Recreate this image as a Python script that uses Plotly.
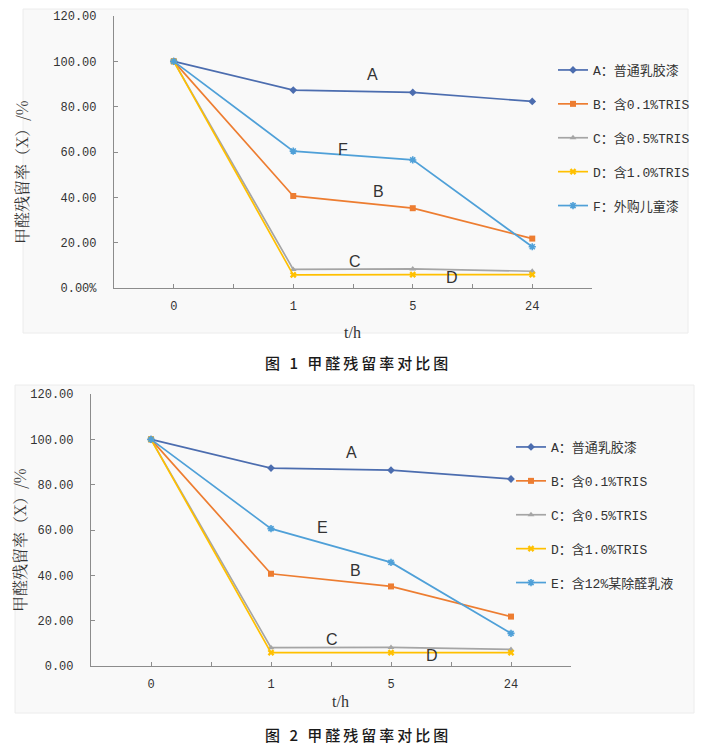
import plotly.graph_objects as go

# The page body adds an 8px margin, so the figure is sized to fit inside it
PAGE_W, PAGE_H = 703, 753
OFF = 8
W, H = PAGE_W - 2 * OFF, PAGE_H - 2 * OFF

# ---------------- data ----------------
times = ["0", "1", "5", "24"]

fig1_names = ["A：普通乳胶漆", "B：含0.1%TRIS", "C：含0.5%TRIS", "D：含1.0%TRIS", "F：外购儿童漆"]
fig1_A = [100.0, 87.3, 86.3, 82.3]
fig1_B = [100.0, 40.6, 35.2, 21.8]
fig1_C = [100.0, 8.2, 8.4, 7.4]
fig1_D = [100.0, 5.8, 5.9, 5.9]
fig1_F = [100.0, 60.4, 56.5, 18.2]

fig2_names = ["A：普通乳胶漆", "B：含0.1%TRIS", "C：含0.5%TRIS", "D：含1.0%TRIS", "E：含12%某除醛乳液"]
fig2_A = [100.0, 87.3, 86.4, 82.5]
fig2_B = [100.0, 40.7, 35.1, 21.8]
fig2_C = [100.0, 8.1, 8.2, 7.3]
fig2_D = [100.0, 5.9, 5.9, 5.9]
fig2_E = [100.0, 60.6, 45.7, 14.4]

y_ticks = [0, 20, 40, 60, 80, 100, 120]
y_ticktext1 = ["0.00%", "20.00", "40.00", "60.00", "80.00", "100.00", "120.00"]
y_ticktext2 = ["0.00", "20.00", "40.00", "60.00", "80.00", "100.00", "120.00"]

# line-label annotations (label, x position in category units, y value)
labels1 = [("A", 1.66, 94.0), ("F", 1.42, 60.9), ("B", 1.71, 42.5), ("C", 1.52, 11.5), ("D", 2.33, 4.8)]
labels2 = [("A", 1.67, 94.0), ("E", 1.43, 61.2), ("B", 1.70, 42.0), ("C", 1.51, 11.5), ("D", 2.34, 4.6)]

caption1 = "图 1 甲醛残留率对比图"
caption2 = "图 2 甲醛残留率对比图"
y_title = "甲醛残留率（X）/%"
x_title = "t/h"

colors = ["#4C6DAF", "#ED7D31", "#A5A5A5", "#FFC000", "#4FA0D8"]
symbols = ["diamond", "square", "triangle-up", "x", "asterisk-open"]

CJK = "Noto Sans CJK SC"
MONO = "Liberation Mono, Noto Sans CJK SC"
TXT = "#333333"


def px_x(x):
    return (x - OFF) / W


def px_y(y):
    return 1 - (y - OFF) / H


def spaced(s):
    # thin spaces between characters to mimic the caption's letter spacing
    return "\u2009".join(list(s))


fig = go.Figure()
xidx = list(range(len(times)))

series_sets = [
    (fig1_names, [fig1_A, fig1_B, fig1_C, fig1_D, fig1_F], "x", "y", "legend"),
    (fig2_names, [fig2_A, fig2_B, fig2_C, fig2_D, fig2_E], "x2", "y2", "legend2"),
]
for names, vals, xa, ya, leg in series_sets:
    for i, (nm, v) in enumerate(zip(names, vals)):
        mk = dict(symbol=symbols[i], size=6, color=colors[i],
                  line=dict(width=1.6 if "open" in symbols[i] else 0, color=colors[i]))
        fig.add_trace(go.Scatter(
            x=xidx, y=v, name=nm, mode="lines+markers",
            line=dict(color=colors[i], width=1.7),
            marker=mk, xaxis=xa, yaxis=ya, legend=leg,
            legendgroup=f"{leg}_{i}",
        ))

axis_line = "#8C8C8C"


def xaxis_cfg(domain, anchor):
    return dict(
        domain=domain, anchor=anchor, range=[-0.5, 3.5],
        tickmode="array", tickvals=xidx, ticktext=times,
        ticks="inside", ticklen=4, tickcolor=axis_line,
        minor=dict(ticks="inside", ticklen=4, tickcolor=axis_line, tick0=-0.5, dtick=1),
        showline=True, linecolor=axis_line, linewidth=1.2,
        showgrid=False, zeroline=False, fixedrange=True, automargin=False,
        tickfont=dict(family=MONO, size=12, color=TXT),
        ticklabelstandoff=6,
    )


def yaxis_cfg(domain, anchor, ticktext):
    return dict(
        domain=domain, anchor=anchor, range=[0, 120],
        tickmode="array", tickvals=y_ticks, ticktext=ticktext,
        ticks="inside", ticklen=4, tickcolor=axis_line,
        showline=True, linecolor=axis_line, linewidth=1.2,
        showgrid=False, zeroline=False, fixedrange=True, automargin=False,
        tickfont=dict(family=MONO, size=12, color=TXT),
        ticklabelstandoff=14,
    )


legend_common = dict(
    xanchor="left", yanchor="top", bgcolor="rgba(0,0,0,0)",
    font=dict(family=MONO, size=13, color=TXT),
    traceorder="grouped", tracegroupgap=14, itemwidth=30,
)

fig.update_layout(
    width=W, height=H,
    margin=dict(l=0, r=0, t=0, b=0, autoexpand=False),
    paper_bgcolor="white", plot_bgcolor="rgba(0,0,0,0)",
    xaxis=xaxis_cfg([px_x(114), px_x(592)], "y"),
    yaxis=yaxis_cfg([px_y(288), px_y(16)], "x", y_ticktext1),
    xaxis2=xaxis_cfg([px_x(91), px_x(571)], "y2"),
    yaxis2=yaxis_cfg([px_y(666), px_y(394)], "x2", y_ticktext2),
    legend=dict(x=px_x(553), y=px_y(55), **legend_common),
    legend2=dict(x=px_x(511), y=px_y(432), **legend_common),
    showlegend=True,
)

# panel backgrounds
fig.add_shape(type="rect", xref="paper", yref="paper", layer="below",
              x0=px_x(23), x1=px_x(688), y0=px_y(333), y1=px_y(9),
              fillcolor="#F9F9F9", line=dict(color="#ECECEC", width=1))
fig.add_shape(type="rect", xref="paper", yref="paper", layer="below",
              x0=px_x(15), x1=px_x(694), y0=px_y(713), y1=px_y(385),
              fillcolor="#F9F9F9", line=dict(color="#ECECEC", width=1))

ann = []
for lab, xv, yv in labels1:
    ann.append(dict(text=lab, x=xv, y=yv, xref="x", yref="y", showarrow=False,
                    xanchor="center", yanchor="middle",
                    font=dict(family="Liberation Sans", size=16, color=TXT)))
for lab, xv, yv in labels2:
    ann.append(dict(text=lab, x=xv, y=yv, xref="x2", yref="y2", showarrow=False,
                    xanchor="center", yanchor="middle",
                    font=dict(family="Liberation Sans", size=16, color=TXT)))


def paper_text(text, x, y, font, angle=0):
    return dict(text=text, x=px_x(x), y=px_y(y), xref="paper", yref="paper",
                xanchor="center", yanchor="middle", textangle=angle,
                showarrow=False, font=font)


ytfont = dict(family="Noto Serif CJK SC, " + CJK, size=16, color=TXT)
ann.append(paper_text(y_title, 21, 172, ytfont, -90))
ann.append(paper_text(y_title, 19, 540, ytfont, -90))
xtfont = dict(family="Liberation Serif", size=16, color=TXT)
ann.append(paper_text(x_title, 353, 332, xtfont))
ann.append(paper_text(x_title, 340, 701, xtfont))
capfont = dict(family=CJK, size=15, color="#1A1A1A", weight=500)
ann.append(paper_text(spaced(caption1), 356, 362, capfont))
ann.append(paper_text(spaced(caption2), 356, 734, capfont))

fig.update_layout(annotations=ann)

fig.write_html("out.html")
